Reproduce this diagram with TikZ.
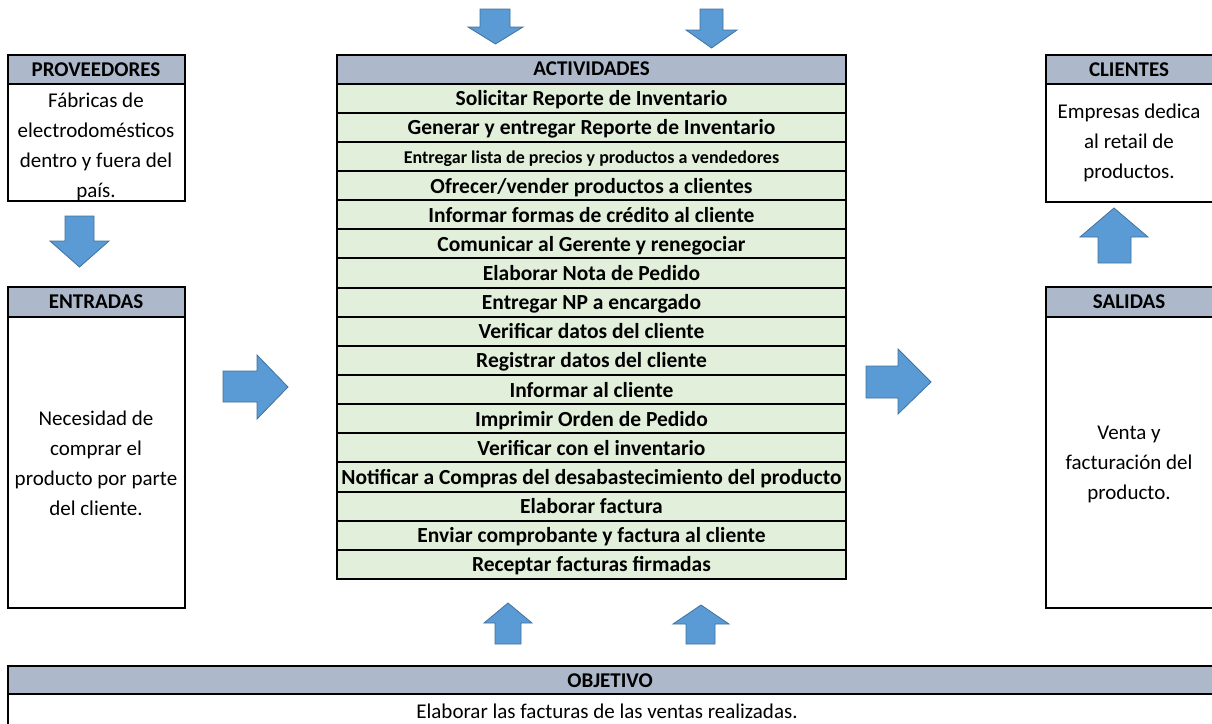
\documentclass[tikz,border=0pt]{standalone}
\usepackage{fontspec}
\setmainfont{Carlito}
\begin{document}
\begin{tikzpicture}[x=1pt,y=-1pt,
  every node/.style={inner sep=0pt, outer sep=0pt},
  frame/.style={draw=black, line width=2pt},
  hdrfont/.style={font=\fontsize{21}{24}\selectfont\bfseries},
  hdr/.style={frame, fill=hdrblue, anchor=north west, minimum height=29.5pt, hdrfont},
  body/.style={frame, fill=white, anchor=north west},
  bodytext/.style={align=center, font=\fontsize{21}{30}\selectfont},
  actrow/.style={frame, fill=rowgreen, anchor=north west, minimum width=509pt,
    minimum height=29.15pt, text height=16.5pt, text depth=1.5pt,
    font=\fontsize{21.5}{24}\selectfont\bfseries},
  blockarrow/.style={fill=arrowblue, draw=arrowedge, line width=0.8pt, line join=miter}
]
\definecolor{hdrblue}{HTML}{ADB9CA}
\definecolor{rowgreen}{HTML}{E2EFDA}
\definecolor{arrowblue}{HTML}{5B9BD5}
\definecolor{arrowedge}{HTML}{41719C}

\useasboundingbox (0,0) rectangle (1212,723);
\clip (0,0) rectangle (1212,723);

% ---------- PROVEEDORES ----------
\node[body, minimum width=177pt, minimum height=146.5pt] (provB) at (7.5,54.5) {};
\node[hdr, minimum width=177pt] (provH) at (7.5,54.5) {PROVEEDORES};
\node[bodytext] (provT) at (96,146.5) {Fábricas de\\electrodomésticos\\dentro y fuera del\\país.};

% ---------- ENTRADAS ----------
\node[body, minimum width=177pt, minimum height=321pt] (entB) at (7.5,287) {};
\node[hdr, minimum width=177pt] (entH) at (7.5,287) {ENTRADAS};
\node[bodytext] (entT) at (96,463.5) {Necesidad de\\comprar el\\producto por parte\\del cliente.};

% ---------- CLIENTES ----------
\node[body, minimum width=180pt, minimum height=147pt] (cliB) at (1046,54.5) {};
\node[hdr, minimum width=180pt] (cliH) at (1046,54.5) {};
\node[hdrfont] (cliL) at (1129,69.5) {CLIENTES};
\node[bodytext] (cliT) at (1129,143) {Empresas dedica\\al retail de\\productos.};

% ---------- SALIDAS ----------
\node[body, minimum width=180pt, minimum height=321pt] (salB) at (1046,287) {};
\node[hdr, minimum width=180pt] (salH) at (1046,287) {};
\node[hdrfont] (salL) at (1129,302) {SALIDAS};
\node[bodytext] (salT) at (1129,464) {Venta y\\facturación del\\producto.};

% ---------- ACTIVIDADES ----------
\node[hdr, minimum width=509pt, minimum height=29pt] (actH) at (337,54.5) {ACTIVIDADES};
\foreach \txt [count=\i] in {
  Solicitar Reporte de Inventario,
  Generar y entregar Reporte de Inventario,
  {\fontsize{18}{21}\selectfont Entregar lista de precios y productos a vendedores},
  Ofrecer/vender productos a clientes,
  Informar formas de crédito al cliente,
  Comunicar al Gerente y renegociar,
  Elaborar Nota de Pedido,
  Entregar NP a encargado,
  Verificar datos del cliente,
  Registrar datos del cliente,
  Informar al cliente,
  Imprimir Orden de Pedido,
  Verificar con el inventario,
  Notificar a Compras del desabastecimiento del producto,
  Elaborar factura,
  Enviar comprobante y factura al cliente,
  Receptar facturas firmadas}
{
  \node[actrow] (row\i) at (337,{83.5+(\i-1)*29.15}) {\txt};
}

% ---------- OBJETIVO ----------
\node[body, minimum width=1220pt, minimum height=80pt] (objB) at (8,666) {};
\node[hdr, minimum width=1220pt, minimum height=28pt] (objH) at (8,666) {};
\node[hdrfont] (objL) at (610,681) {OBJETIVO};
\node[font=\fontsize{21}{24}\selectfont] (objT) at (607,711) {Elaborar las facturas de las ventas realizadas.};

% ---------- block arrows ----------
% down arrows above ACTIVIDADES
\draw[blockarrow] (480,9) -- (510,9) -- (510,27) -- (523,27) -- (495.5,44) -- (468,27) -- (480,27) -- cycle;
\draw[blockarrow] (700,9) -- (723,9) -- (723,30) -- (737,30) -- (711.5,48) -- (686,30) -- (700,30) -- cycle;
% PROVEEDORES -> ENTRADAS
\draw[blockarrow] (65,216) -- (94,216) -- (94,241) -- (109,241) -- (79.5,267) -- (50,241) -- (65,241) -- cycle;
% ENTRADAS -> ACTIVIDADES
\draw[blockarrow] (223,371) -- (257,371) -- (257,355) -- (288,387) -- (257,419) -- (257,402) -- (223,402) -- cycle;
% ACTIVIDADES -> SALIDAS
\draw[blockarrow] (866,366) -- (898,366) -- (898,349) -- (931,382) -- (898,414) -- (898,398) -- (866,398) -- cycle;
% SALIDAS -> CLIENTES
\draw[blockarrow] (1098,263) -- (1131,263) -- (1131,237) -- (1148,237) -- (1114,208) -- (1080,237) -- (1098,237) -- cycle;
% up arrows below ACTIVIDADES
\draw[blockarrow] (495,644) -- (521,644) -- (521,623) -- (532,623) -- (508,603) -- (484,623) -- (495,623) -- cycle;
\draw[blockarrow] (686,644) -- (715,644) -- (715,624) -- (729,624) -- (701,605) -- (673,624) -- (686,624) -- cycle;
\end{tikzpicture}
\end{document}
